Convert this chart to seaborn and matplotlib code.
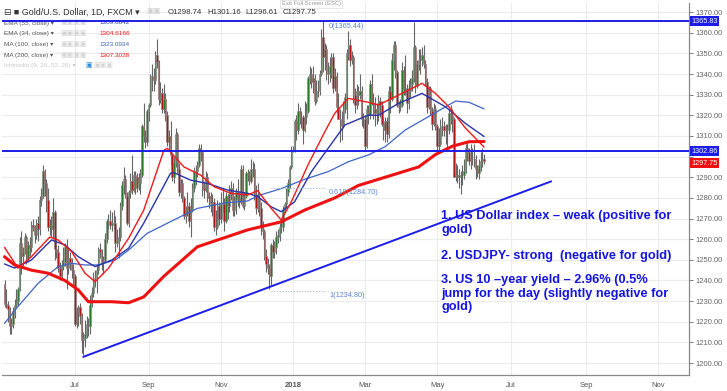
import numpy as np
import pandas as pd
import seaborn as sns
import matplotlib
matplotlib.use("Agg")
import matplotlib.pyplot as plt

# daily candles, gold / US dollar (FXCM), rows are (open, high, low, close)
may17 = [(1238.5, 1240, 1227, 1228.5), (1228.5, 1236, 1226.5, 1228), (1228, 1230, 1220, 1226),
         (1226, 1227, 1214, 1218), (1218, 1222, 1214, 1219), (1219, 1227, 1217, 1225),
         (1225, 1231, 1222, 1228), (1228, 1236, 1227, 1230), (1230, 1237, 1228, 1236),
         (1236, 1261, 1235, 1258), (1258, 1264, 1243, 1252), (1252, 1256, 1246, 1254),
         (1254, 1263, 1253, 1261), (1261, 1262, 1248, 1251), (1251, 1259, 1249, 1257),
         (1257, 1261, 1252, 1256), (1256, 1269, 1254, 1267), (1267, 1270, 1264, 1266),
         (1266, 1267, 1258, 1262), (1262, 1270, 1260, 1268)]
jun17 = [(1268, 1271, 1259, 1265), (1265, 1281, 1262, 1279), (1279, 1285, 1276, 1281),
         (1281, 1296, 1280, 1293), (1293, 1294, 1281, 1287), (1287, 1289, 1273, 1279),
         (1279, 1285, 1264, 1266), (1266, 1270, 1262, 1267), (1267, 1271, 1261, 1265),
         (1265, 1280, 1260, 1273), (1273, 1274, 1250, 1255), (1255, 1261, 1251, 1254),
         (1254, 1257, 1244, 1246), (1246, 1249, 1240, 1242), (1242, 1250, 1241, 1247),
         (1247, 1256, 1245, 1249), (1249, 1258, 1247, 1256), (1256, 1260, 1236, 1246),
         (1246, 1255, 1243, 1251), (1251, 1254, 1245, 1249), (1249, 1251, 1241, 1245),
         (1245, 1248, 1238, 1242)]
jul17 = [(1242, 1243, 1218, 1219), (1219, 1227, 1217, 1225), (1225, 1228, 1218, 1227),
         (1227, 1229, 1219, 1223), (1223, 1224, 1205, 1211), (1211, 1215, 1204, 1212),
         (1212, 1221, 1208, 1214), (1214, 1223, 1212, 1219), (1219, 1222, 1213, 1218),
         (1218, 1233, 1214, 1228), (1228, 1237, 1227, 1234), (1234, 1244, 1232, 1241),
         (1241, 1245, 1237, 1241), (1241, 1248, 1234, 1245), (1245, 1256, 1243, 1255),
         (1255, 1258, 1251, 1254), (1254, 1255, 1245, 1249), (1249, 1252, 1243, 1250),
         (1250, 1263, 1249, 1260), (1260, 1270, 1258, 1269), (1269, 1272, 1265, 1269)]
aug17 = [(1269, 1274, 1265, 1267), (1267, 1273, 1264, 1268), (1268, 1274, 1265, 1268),
         (1268, 1271, 1254, 1258), (1258, 1265, 1256, 1258), (1258, 1266, 1251, 1261),
         (1261, 1278, 1259, 1276), (1276, 1288, 1274, 1286), (1286, 1295, 1282, 1289),
         (1289, 1291, 1280, 1281), (1281, 1283, 1267, 1268), (1268, 1284, 1266, 1283),
         (1283, 1292, 1280, 1288), (1288, 1301, 1282, 1284), (1284, 1293, 1283, 1291),
         (1291, 1293, 1282, 1285), (1285, 1292, 1283, 1290), (1290, 1292, 1284, 1287),
         (1287, 1294, 1282, 1291), (1291, 1316, 1290, 1315), (1315, 1326, 1307, 1310),
         (1310, 1313, 1304, 1307), (1307, 1323, 1305, 1322)]
sep17 = [(1322, 1326, 1317, 1325), (1325, 1340, 1324, 1339), (1339, 1345, 1332, 1339),
         (1339, 1343, 1332, 1337), (1337, 1351, 1335, 1349), (1349, 1357, 1343, 1346),
         (1346, 1347, 1325, 1328), (1328, 1336, 1326, 1331), (1331, 1333, 1321, 1323),
         (1323, 1335, 1321, 1328), (1328, 1331, 1317, 1320), (1320, 1322, 1305, 1307),
         (1307, 1313, 1303, 1310), (1310, 1317, 1296, 1301), (1301, 1302, 1288, 1290),
         (1290, 1300, 1287, 1297), (1297, 1314, 1295, 1311), (1311, 1312, 1292, 1294),
         (1294, 1297, 1281, 1283), (1283, 1289, 1280, 1287), (1287, 1289, 1278, 1280)]
oct17 = [(1280, 1281, 1270, 1271), (1271, 1276, 1268, 1274), (1274, 1283, 1271, 1276),
         (1276, 1278, 1266, 1269), (1269, 1280, 1261, 1274), (1274, 1287, 1273, 1285),
         (1285, 1295, 1283, 1293), (1293, 1296, 1286, 1293), (1293, 1298, 1290, 1296),
         (1296, 1306, 1295, 1304), (1304, 1306, 1298, 1302), (1302, 1303, 1281, 1285),
         (1285, 1288, 1280, 1284), (1284, 1293, 1283, 1290), (1290, 1292, 1278, 1280),
         (1280, 1283, 1275, 1281), (1281, 1283, 1273, 1277), (1277, 1282, 1271, 1278),
         (1278, 1280, 1264, 1266), (1266, 1274, 1262, 1266), (1266, 1279, 1265, 1276),
         (1276, 1278, 1267, 1270)]
nov17 = [(1270, 1283, 1268, 1277), (1277, 1285, 1273, 1277), (1277, 1280, 1264, 1269),
         (1269, 1283, 1268, 1281), (1281, 1282, 1270, 1276), (1276, 1286, 1273, 1282),
         (1282, 1288, 1279, 1285), (1285, 1287, 1271, 1274), (1274, 1281, 1271, 1279),
         (1279, 1285, 1272, 1283), (1283, 1289, 1276, 1280), (1280, 1283, 1275, 1278),
         (1278, 1296, 1277, 1294), (1294, 1296, 1275, 1276), (1276, 1283, 1274, 1281),
         (1281, 1293, 1280, 1292), (1292, 1294, 1288, 1291), (1291, 1293, 1286, 1288),
         (1288, 1299, 1287, 1294), (1294, 1298, 1290, 1294), (1294, 1297, 1279, 1282),
         (1282, 1286, 1272, 1275)]
dec17 = [(1275, 1287, 1273, 1280), (1280, 1282, 1271, 1275), (1275, 1278, 1262, 1266),
         (1266, 1269, 1260, 1264), (1264, 1265, 1250, 1252), (1252, 1255, 1244, 1248),
         (1248, 1251, 1243, 1246), (1246, 1248, 1236, 1242), (1242, 1258, 1238, 1257),
         (1257, 1260, 1251, 1254), (1254, 1259, 1251, 1256), (1256, 1264, 1253, 1261),
         (1261, 1265, 1258, 1262), (1262, 1268, 1259, 1266), (1266, 1269, 1263, 1266),
         (1266, 1276, 1264, 1274), (1274, 1278, 1273, 1277), (1277, 1285, 1275, 1283),
         (1283, 1289, 1281, 1287), (1287, 1296, 1285, 1295), (1295, 1305, 1294, 1303)]
jan18 = [(1303, 1305, 1302, 1303), (1303, 1318, 1302, 1317), (1317, 1320, 1308, 1313),
         (1313, 1326, 1311, 1322), (1322, 1324, 1316, 1319), (1319, 1322, 1314, 1319),
         (1319, 1320, 1306, 1313), (1313, 1327, 1312, 1319), (1319, 1326, 1316, 1322),
         (1322, 1339, 1321, 1338), (1338, 1344, 1335, 1340), (1340, 1343, 1333, 1336),
         (1336, 1344, 1331, 1338), (1338, 1340, 1325, 1327), (1327, 1337, 1326, 1332),
         (1332, 1337, 1329, 1332), (1332, 1342, 1330, 1340), (1340, 1362, 1339, 1358),
         (1358, 1366, 1341, 1348), (1348, 1355, 1342, 1352), (1352, 1354, 1337, 1340),
         (1340, 1346, 1335, 1340), (1340, 1348, 1336, 1344)]
feb18 = [(1344, 1350, 1338, 1348), (1348, 1350, 1331, 1333), (1333, 1343, 1332, 1339),
         (1339, 1341, 1321, 1324), (1324, 1331, 1318, 1318), (1318, 1323, 1307, 1318),
         (1318, 1322, 1308, 1315), (1315, 1327, 1314, 1323), (1323, 1331, 1321, 1329),
         (1329, 1352, 1318, 1350), (1350, 1361, 1347, 1354), (1354, 1357, 1344, 1347),
         (1347, 1351, 1345, 1348), (1348, 1349, 1326, 1330), (1330, 1333, 1321, 1325),
         (1325, 1335, 1323, 1332), (1332, 1334, 1325, 1330), (1330, 1340, 1328, 1332),
         (1332, 1334, 1315, 1318), (1318, 1321, 1314, 1318)]
mar18 = [(1318, 1320, 1303, 1305), (1305, 1325, 1304, 1323), (1323, 1325, 1316, 1320),
         (1320, 1337, 1318, 1335), (1335, 1340, 1325, 1326), (1326, 1331, 1318, 1321),
         (1321, 1329, 1315, 1323), (1323, 1326, 1316, 1321), (1321, 1330, 1317, 1327),
         (1327, 1329, 1319, 1325), (1325, 1327, 1315, 1316), (1316, 1319, 1308, 1313),
         (1313, 1319, 1307, 1317), (1317, 1319, 1307, 1311), (1311, 1334, 1309, 1332),
         (1332, 1334, 1321, 1328), (1328, 1350, 1327, 1347), (1347, 1356, 1342, 1354),
         (1354, 1356, 1338, 1341), (1341, 1342, 1324, 1325), (1325, 1327, 1321, 1324),
         (1324, 1328, 1322, 1325)]
apr18 = [(1325, 1346, 1324, 1342), (1342, 1344, 1330, 1333), (1333, 1349, 1330, 1333),
         (1333, 1335, 1321, 1326), (1326, 1337, 1323, 1332), (1332, 1338, 1329, 1335),
         (1335, 1342, 1332, 1338), (1338, 1365, 1336, 1353), (1353, 1354, 1331, 1334),
         (1334, 1347, 1333, 1345), (1345, 1352, 1342, 1347), (1347, 1352, 1340, 1347),
         (1347, 1353, 1344, 1349), (1349, 1354, 1343, 1345), (1345, 1347, 1334, 1336),
         (1336, 1338, 1321, 1324), (1324, 1334, 1323, 1333), (1333, 1334, 1320, 1322),
         (1322, 1324, 1313, 1316), (1316, 1326, 1315, 1323), (1323, 1325, 1313, 1315)]
may18 = [(1315, 1316, 1302, 1305), (1305, 1314, 1303, 1306), (1306, 1318, 1305, 1315),
         (1315, 1319, 1310, 1315), (1315, 1317, 1310, 1313), (1313, 1316, 1306, 1313),
         (1313, 1316, 1304, 1313), (1313, 1323, 1311, 1321), (1321, 1325, 1316, 1320),
         (1320, 1323, 1312, 1318), (1318, 1319, 1290, 1290), (1290, 1297, 1288, 1291),
         (1291, 1296, 1287, 1290), (1290, 1294, 1285, 1291), (1291, 1293, 1282, 1291),
         (1291, 1296, 1286, 1291), (1291, 1299, 1289, 1293), (1293, 1306, 1292, 1304),
         (1304, 1307, 1298, 1302), (1302, 1304, 1296, 1298), (1298, 1306, 1294, 1299),
         (1299, 1304, 1296, 1299), (1299, 1306, 1295, 1299)]
jun18 = [(1299, 1301, 1289, 1294), (1294, 1296, 1290, 1292), (1292, 1299, 1289, 1296),
         (1296, 1302, 1293, 1298), (1298, 1304, 1295, 1298.74), (1298.74, 1301.16, 1296.61, 1297.75)]

first_day = "2017-05-04"

# indicator lines
ema55_dates = ["2017-05-04", "2017-05-12", "2017-05-26", "2017-06-13", "2017-06-23", "2017-07-05",
               "2017-07-19", "2017-08-02", "2017-08-16", "2017-08-29", "2017-09-20", "2017-09-22",
               "2017-10-06", "2017-10-20", "2017-11-07", "2017-11-23", "2017-12-01", "2017-12-13",
               "2017-12-21", "2018-01-02", "2018-01-16", "2018-01-30", "2018-02-13", "2018-03-05",
               "2018-03-13", "2018-03-29", "2018-04-18", "2018-05-08", "2018-05-24", "2018-06-08"]
ema55_vals = [1248, 1246, 1249.9, 1259.6, 1257.2, 1251.5, 1246.7, 1249.9, 1255.6, 1267.7, 1291.9, 1292.2,
              1288.6, 1287, 1283.8, 1282.2, 1280.6, 1275.7, 1273.3, 1278.1, 1292.7, 1304, 1315.3, 1320.1,
              1320, 1325.8, 1330.6, 1324.1, 1316, 1309.7]

ema34_dates = ["2017-05-04", "2017-05-16", "2017-05-26", "2017-06-12", "2017-06-19", "2017-06-29",
               "2017-07-11", "2017-07-19", "2017-07-31", "2017-08-16", "2017-08-29", "2017-09-14",
               "2017-09-18", "2017-10-02", "2017-10-16", "2017-10-26", "2017-11-09", "2017-11-23",
               "2017-12-01", "2017-12-13", "2017-12-21", "2017-12-29", "2018-01-12", "2018-01-26",
               "2018-02-05", "2018-02-15", "2018-03-05", "2018-03-13", "2018-03-29", "2018-04-18",
               "2018-04-30", "2018-05-10", "2018-05-24", "2018-06-08"]
ema34_vals = [1256, 1246, 1251.5, 1261, 1259.6, 1254, 1243.5, 1239.4, 1245.9, 1260.4, 1274, 1303,
              1304, 1295, 1291, 1285.4, 1282.2, 1281.4, 1283.5, 1275, 1269.3, 1278, 1296, 1312,
              1321, 1328.2, 1326.3, 1325, 1329.8, 1335.5, 1330.6, 1324.1, 1313.7, 1304.6]

ma100_dates = ["2017-05-04", "2017-05-16", "2017-06-01", "2017-06-19", "2017-06-29", "2017-07-11",
               "2017-07-21", "2017-08-04", "2017-08-16", "2017-08-31", "2017-09-22", "2017-10-12",
               "2017-11-03", "2017-11-23", "2017-12-01", "2017-12-13", "2017-12-21", "2018-01-10",
               "2018-01-30", "2018-02-15", "2018-03-05", "2018-03-19", "2018-04-04", "2018-04-20",
               "2018-05-08", "2018-05-16", "2018-05-28", "2018-06-08"]
ma100_vals = [1219.2, 1227.3, 1238.6, 1246.7, 1248.3, 1247.5, 1247.5, 1249.9, 1254.7, 1262.8, 1269.3,
              1274.9, 1277.5, 1278.5, 1281, 1283, 1284.5, 1289, 1292.7, 1297.5, 1300.8, 1304.8, 1312.9,
              1318.5, 1324.1, 1326.9, 1326.3, 1323.1]

ma200_dates = ["2017-05-04", "2017-05-12", "2017-05-26", "2017-06-09", "2017-06-23", "2017-07-05",
               "2017-07-13", "2017-08-02", "2017-08-16", "2017-08-29", "2017-09-14", "2017-10-12",
               "2017-11-23", "2017-12-21", "2018-01-10", "2018-02-05", "2018-02-23", "2018-03-23",
               "2018-04-16", "2018-04-30", "2018-05-14", "2018-05-28", "2018-06-08"]
ma200_vals = [1251.5, 1247.5, 1245, 1243.5, 1240, 1235.4, 1229.7, 1229.7, 1229.2, 1232, 1242, 1256.3,
              1264.5, 1268.4, 1274.1, 1280, 1286, 1291, 1295, 1301, 1305, 1307.2, 1307.3]

# drawn objects
level_prices = [1365.83, 1302.86]
trend_dates = ["2017-07-10", "2018-08-03"]
trend_prices = [1203.0, 1288.0]
fib_dates = ["2017-12-13", "2018-01-29"]
fib_levels = [1365.44, 1284.70, 1234.80]
fib_labels = ["0(1365.44)", "0.618(1284.70)", "1(1234.80)"]
last_close = 1297.75

price_ticks = [1200, 1210, 1220, 1230, 1240, 1250, 1260, 1270, 1280, 1290, 1300, 1310,
               1320, 1330, 1340, 1350, 1360, 1370]
price_labels = ["1200.00", "1210.00", "1220.00", "1230.00", "1240.00", "1250.00", "1260.00", "1270.00",
                "1280.00", "1290.00", "", "1310.00", "1320.00", "1330.00", "1340.00", "1350.00",
                "1360.00", "1370.00"]
month_dates = ["2017-07-01", "2017-09-01", "2017-11-01", "2018-01-01", "2018-03-01",
               "2018-05-01", "2018-07-01", "2018-09-01", "2018-11-01"]
month_labels = ["Jul", "Sep", "Nov", "2018", "Mar", "May", "Jul", "Sep", "Nov"]

notes = ["1. US Dollar index \u2013 weak (positive for\ngold)",
         "2. USDJPY- strong  (negative for gold)",
         "3. US 10 \u2013year yield \u2013 2.96% (0.5%\njump for the day (slightly negative for\ngold)"]


def bar_pos(dates):
    d = np.array(dates, dtype="datetime64[D]")
    return np.busday_count(np.datetime64(first_day), d)


sns.set_style("white")
plt.rcParams["font.family"] = ["Liberation Sans", "DejaVu Sans"]

W, H = 727, 391
fig = plt.figure(figsize=(W / 100, H / 100), dpi=100)
ax = fig.add_axes([2 / W, 16 / H, 687 / W, 372 / H])


def px(x, y):
    return x / W, 1 - y / H


bars = may17 + jun17 + jul17 + aug17 + sep17 + oct17 + nov17 + dec17 + jan18 + feb18 + mar18 + apr18 + may18 + jun18
df = pd.DataFrame(bars, columns=["open", "high", "low", "close"])
df["i"] = np.arange(len(df))
up = df["close"] >= df["open"]

# grid
ticks = bar_pos(month_dates)
for t in ticks:
    ax.axvline(t, color="#ececec", lw=0.8, zorder=0)
for p in price_ticks:
    ax.axhline(p, color="#ececec", lw=0.8, zorder=0)

# candles
ax.vlines(df["i"], df["low"], df["high"], color="#666666", lw=0.8, zorder=2)
ax.bar(df.loc[up, "i"], df.loc[up, "close"] - df.loc[up, "open"], bottom=df.loc[up, "open"],
       width=0.85, color="#2a7a2a", edgecolor="#8a8a8a", linewidth=0.4, zorder=3)
ax.bar(df.loc[~up, "i"], df.loc[~up, "close"] - df.loc[~up, "open"], bottom=df.loc[~up, "open"],
       width=0.85, color="#b01414", edgecolor="#8a8a8a", linewidth=0.4, zorder=3)

# moving averages
sns.lineplot(x=bar_pos(ma100_dates), y=ma100_vals, ax=ax, color="#3d64c8", lw=0.9, zorder=4)
sns.lineplot(x=bar_pos(ema55_dates), y=ema55_vals, ax=ax, color="#2a33a8", lw=1.0, zorder=4)
sns.lineplot(x=bar_pos(ema34_dates), y=ema34_vals, ax=ax, color="#f01818", lw=1.0, zorder=4)
sns.lineplot(x=bar_pos(ma200_dates), y=ma200_vals, ax=ax, color="#ee1111", lw=2.2, zorder=4)

# horizontal levels and trend line
for lv in level_prices:
    ax.axhline(lv, color="#1c1ce8", lw=1.4, zorder=6)
ax.plot(bar_pos(trend_dates), trend_prices, color="#1c1ce8", lw=1.4, zorder=6)

# fibonacci retracement
fx = bar_pos(fib_dates)
for lv, lab in zip(fib_levels, fib_labels):
    ax.plot(fx, [lv, lv], color="#9db6e6", lw=0.8, ls=(0, (1, 1.5)), zorder=5)
    ax.text(fx[1] + 1.5, lv - 0.6, lab, color="#5a86d6", fontsize=5.2, va="top", ha="left", zorder=6)

ax.set_xlim(-1.5, 408.2)
ax.set_ylim(1194.2, 1374.4)

ax.set_xticks(ticks)
ax.set_xticklabels(month_labels)
for lab in ax.get_xticklabels():
    if lab.get_text() == "2018":
        lab.set_fontweight("bold")
        lab.set_color("#333333")
ax.yaxis.tick_right()
ax.set_yticks(price_ticks)
ax.set_yticklabels(price_labels)
ax.tick_params(axis="both", labelsize=5.5, colors="#666666", length=3, width=0.6, pad=2)
ax.tick_params(axis="x", labelcolor="#555555")
for s in ["top", "left"]:
    ax.spines[s].set_visible(False)
for s in ["right", "bottom"]:
    ax.spines[s].set_color("#8a8a8a")
    ax.spines[s].set_linewidth(0.9)

# price tags on the scale
ytr = ax.get_yaxis_transform()
tag_style = dict(transform=ytr, fontsize=5.2, color="white", va="center", ha="left", clip_on=False, zorder=8)
for lv in level_prices:
    ax.text(1.003, lv - 0.2, f"{lv:.2f}", bbox=dict(boxstyle="square,pad=0.2", fc="#1c1ce8", ec="none"),
            **tag_style)
ax.text(1.003, last_close - 0.9, f"{last_close:.2f}",
        bbox=dict(boxstyle="square,pad=0.2", fc="#f01010", ec="none"), **tag_style)

# header and indicator legend
ft = fig.transFigure
ax.text(*px(4, 12), "\u229f \u25a0 Gold/U.S. Dollar, 1D, FXCM \u25be", transform=ft, fontsize=6.4,
        color="#333333", va="center", ha="left", zorder=1)
ax.text(*px(146, 12), "\u25a3\u25a3", transform=ft, fontsize=5.5, color="#cfcfcf", va="center", zorder=1)
for xx, s in zip([168, 207, 245, 283], ["O1298.74", "H1301.16", "L1296.61", "C1297.75"]):
    ax.text(*px(xx, 12), s, transform=ft, fontsize=5.6, color="#333333", va="center", ha="left", zorder=1)
ax.text(*px(311, 4), "Exit Full Screen (ESC)", transform=ft, fontsize=4.2, color="#999999", va="center",
        ha="center", bbox=dict(boxstyle="square,pad=0.3", fc="white", ec="#dddddd", lw=0.5), zorder=1)

legend_rows = [("EMA (55, close)", "1309.6842", "#2a33a8"), ("EMA (34, close)", "1304.6166", "#f01818"),
               ("MA (100, close)", "1323.0934", "#3d64c8"), ("MA (200, close)", "1307.3028", "#ee1111")]
for k, (name, val, col) in enumerate(legend_rows):
    yy = 23 + k * 10.7
    ax.text(*px(4, yy), name + " \u25be", transform=ft, fontsize=4.6, color="#555555", va="center", zorder=1)
    ax.text(*px(60, yy), "\u25a3\u25a3\u25a3\u25a3", transform=ft, fontsize=5, color="#d4d4d4", va="center", zorder=1)
    ax.text(*px(99, yy), val, transform=ft, fontsize=4.6, color=col, va="center", zorder=1)
ax.text(*px(4, 65.5), "Ichimoku (9, 26, 52, 26) \u25be", transform=ft, fontsize=4.6, color="#c8c8c8",
        va="center", zorder=1)
ax.text(*px(85, 65.5), "\u25a3", transform=ft, fontsize=5, color="#2a8ae0", va="center", zorder=1)
ax.text(*px(93, 65.5), "\u25a3\u25a3\u25a3", transform=ft, fontsize=5, color="#d4d4d4", va="center", zorder=1)

# commentary
for yy, note in zip([210, 250, 274], notes):
    ax.text(*px(441, yy), note, transform=ft, fontsize=9.2, fontweight="bold", color="#1414e0",
            va="top", ha="left", linespacing=1.18, zorder=9)

fig.savefig("out.png", dpi=100, facecolor="white")
